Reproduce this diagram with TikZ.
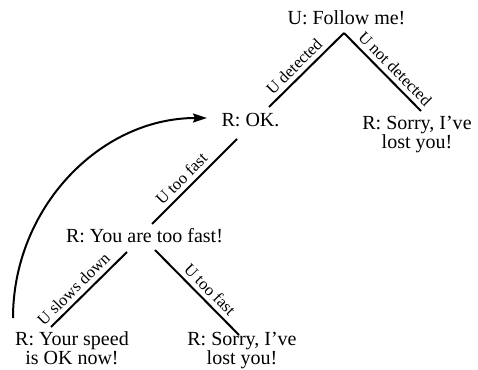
\documentclass[tikz,border=0pt]{standalone}
\usepackage{fontspec}
\setmainfont{Liberation Serif}
\usetikzlibrary{arrows.meta}
\begin{document}
\begin{tikzpicture}[x=1pt,y=1pt,
  state/.style={font=\fontsize{20}{19}\selectfont, inner sep=0pt, anchor=base, align=center},
  link/.style={line width=2pt},
  lbl/.style={font=\fontsize{16.5}{16.5}\selectfont, pos=0.56, sloped, above, inner sep=4.5pt},
  back/.style={line width=2pt, -{Stealth[length=14pt,width=9pt,inset=2pt]}}]
\useasboundingbox (0,0) rectangle (478,369);
\node[state] (top) at (346.5,344) {U: Follow me!};
\node[state] (ok) at (250.5,242) {R: OK.};
\node[state] (lost1) at (417,220) {R: Sorry, I've\\lost you!};
\node[state] (fast) at (144.5,126) {R: You are too fast!};
\node[state] (speed) at (72,5) {R: Your speed\\is OK now!};
\node[state] (lost2) at (242,5) {R: Sorry, I've\\lost you!};
\draw[link] ([shift={(-2.5,-8)}]top.base) -- node[lbl]{U detected} ([shift={(18.5,20)}]ok.base);
\draw[link] ([shift={(-2.5,-8)}]top.base) -- node[lbl]{U not detected} ([shift={(4,38)}]lost1.base);
\draw[link] ([shift={(-13.5,-12)}]ok.base) -- node[lbl]{U too fast} ([shift={(7.5,19)}]fast.base);
\draw[link] ([shift={(-17.5,-9)}]fast.base) -- node[lbl, pos=0.6]{U slows down} ([shift={(-21,37)}]speed.base);
\draw[link] ([shift={(10.5,-7)}]fast.base) -- node[lbl]{U too fast} ([shift={(-3,29)}]lost2.base);
\draw[back] ([shift={(-59,46)}]speed.base) .. controls +(0,110) and +(-107,0) .. ([shift={(-43.5,9)}]ok.base);
\end{tikzpicture}
\end{document}
